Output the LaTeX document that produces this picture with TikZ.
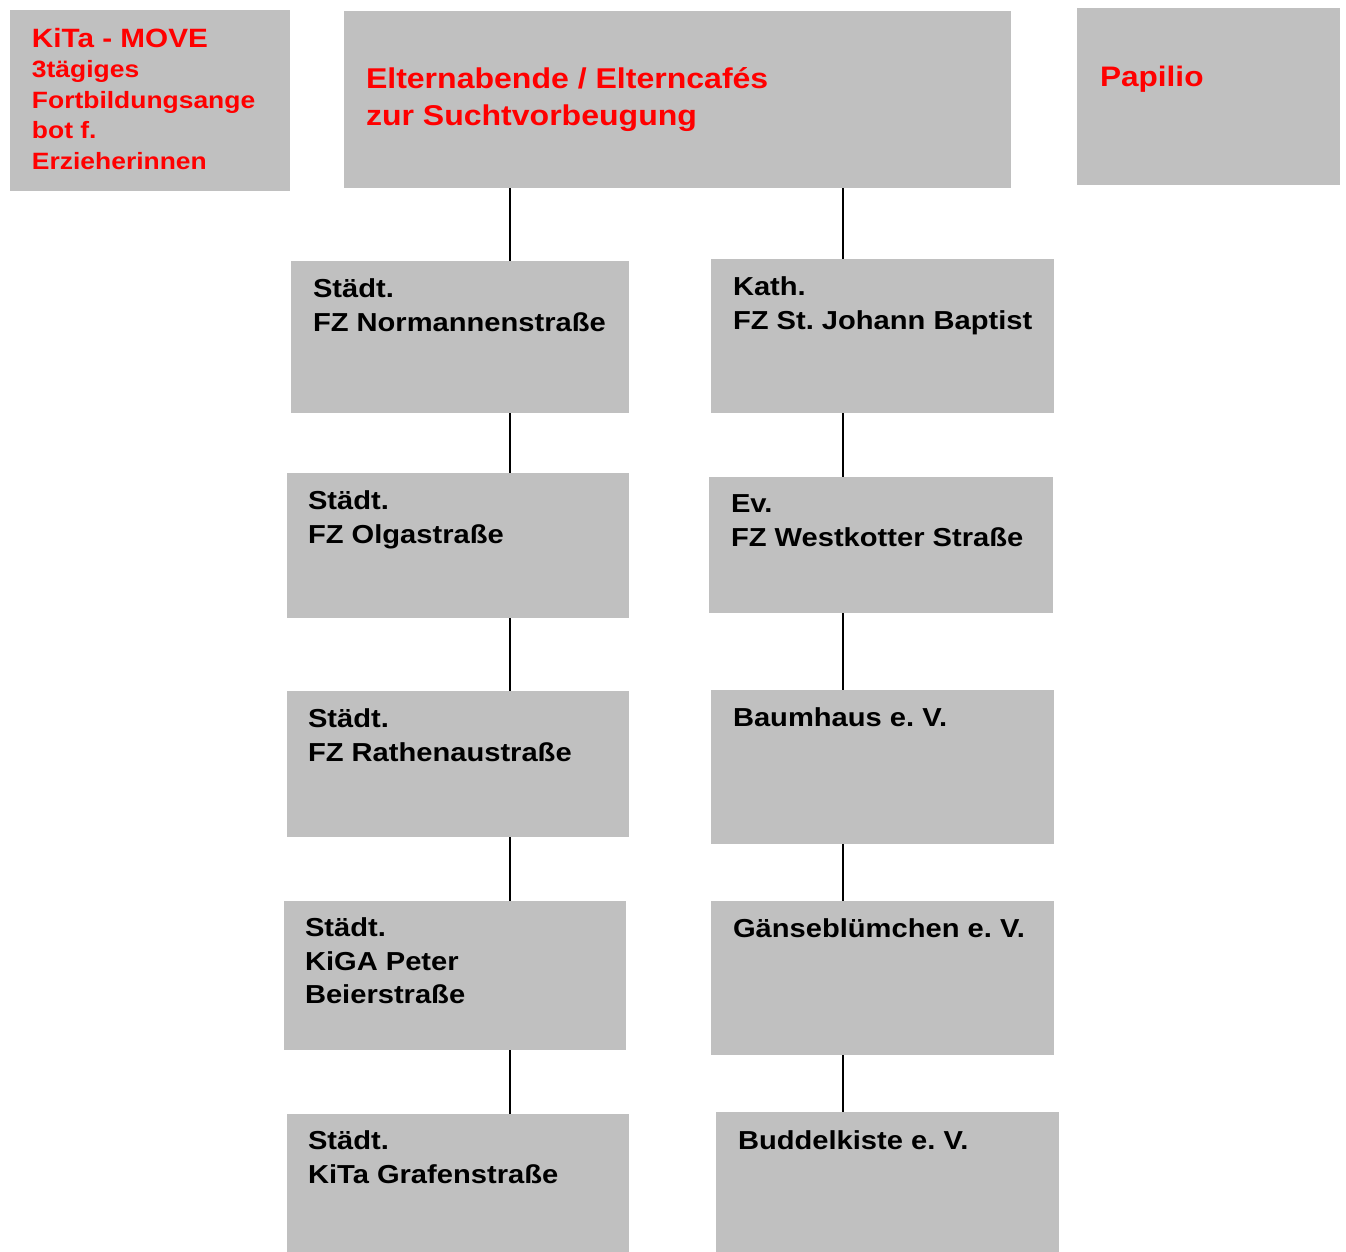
\documentclass[tikz,border=0pt]{standalone}
\usepackage{fontspec}
\setmainfont{Liberation Sans}[FakeStretch=1.12]
\usepackage{tikz}
\usetikzlibrary{fit}
\definecolor{boxc}{HTML}{C0C0C0}
\definecolor{redc}{HTML}{FF0000}
\tikzset{
  box/.style={fill=boxc,inner sep=0pt},
  txt/.style={anchor=north west,inner sep=0pt,align=left,font=\bfseries\fontsize{13}{16.75}\selectfont},
  rtxt/.style={txt,text=redc,font=\bfseries\fontsize{14.3}{18.5}\selectfont},
  ln/.style={black,line width=0.8pt}
}

\begin{document}
\frenchspacing
\begin{tikzpicture}[x=0.5pt,y=-0.5pt]
\useasboundingbox (0,0) rectangle (1346,1252);
\node[box,fit={(10,10) (290,191)}] (kita) {};
\node[box,fit={(344,11) (1011,188)}] (elt) {};
\node[box,fit={(1077,8) (1340,185)}] (pap) {};
\node[box,fit={(291,261) (629,413)}] (nor) {};
\node[box,fit={(287,473) (629,618)}] (olg) {};
\node[box,fit={(287,691) (629,837)}] (rat) {};
\node[box,fit={(284,901) (626,1050)}] (pet) {};
\node[box,fit={(287,1114) (629,1252)}] (gra) {};
\node[box,fit={(711,259) (1054,413)}] (joh) {};
\node[box,fit={(709,477) (1053,613)}] (wes) {};
\node[box,fit={(711,690) (1054,844)}] (bau) {};
\node[box,fit={(711,901) (1054,1055)}] (gan) {};
\node[box,fit={(716,1112) (1059,1252)}] (bud) {};
\node[txt,text=redc,font=\bfseries\fontsize{11.8}{15.25}\selectfont] (kitat) at ([shift={(22,18)}]kita.north west)
  {{\fontsize{13.25}{15.25}\selectfont KiTa - MOVE}\\3tägiges\\Fortbildungsange\\bot f.\\Erzieherinnen};
\node[rtxt] (eltt) at ([shift={(22,57)}]elt.north west) {Elternabende / Elterncafés\\zur Suchtvorbeugung};
\node[rtxt,font=\bfseries\fontsize{14.1}{18}\selectfont] (papt) at ([shift={(23,58)}]pap.north west) {Papilio};
\node[txt] (nort) at ([shift={(22,18)}]nor.north west) {Städt.\\FZ Normannenstraße};
\node[txt] (olgt) at ([shift={(21,18)}]olg.north west) {Städt.\\FZ Olgastraße};
\node[txt] (ratt) at ([shift={(21,18)}]rat.north west) {Städt.\\FZ Rathenaustraße};
\node[txt] (pett) at ([shift={(21,17)}]pet.north west) {Städt.\\KiGA Peter\\Beierstraße};
\node[txt] (grat) at ([shift={(21,17)}]gra.north west) {Städt.\\KiTa Grafenstraße};
\node[txt] (joht) at ([shift={(22,18)}]joh.north west) {Kath.\\FZ St. Johann Baptist};
\node[txt] (west) at ([shift={(22,18)}]wes.north west) {Ev.\\FZ Westkotter Straße};
\node[txt] (baut) at ([shift={(22,18)}]bau.north west) {Baumhaus e. V.};
\node[txt] (gant) at ([shift={(22,18)}]gan.north west) {Gänseblümchen e. V.};
\node[txt] (budt) at ([shift={(22,19)}]bud.north west) {Buddelkiste e. V.};
\coordinate (lx) at (510,0);
\coordinate (rx) at (843,0);
\foreach \a/\b in {elt/nor,nor/olg,olg/rat,rat/pet,pet/gra}
  \draw[ln] (\a.south -| lx) -- (\b.north -| lx);
\foreach \a/\b in {elt/joh,joh/wes,wes/bau,bau/gan,gan/bud}
  \draw[ln] (\a.south -| rx) -- (\b.north -| rx);
\end{tikzpicture}
\end{document}
